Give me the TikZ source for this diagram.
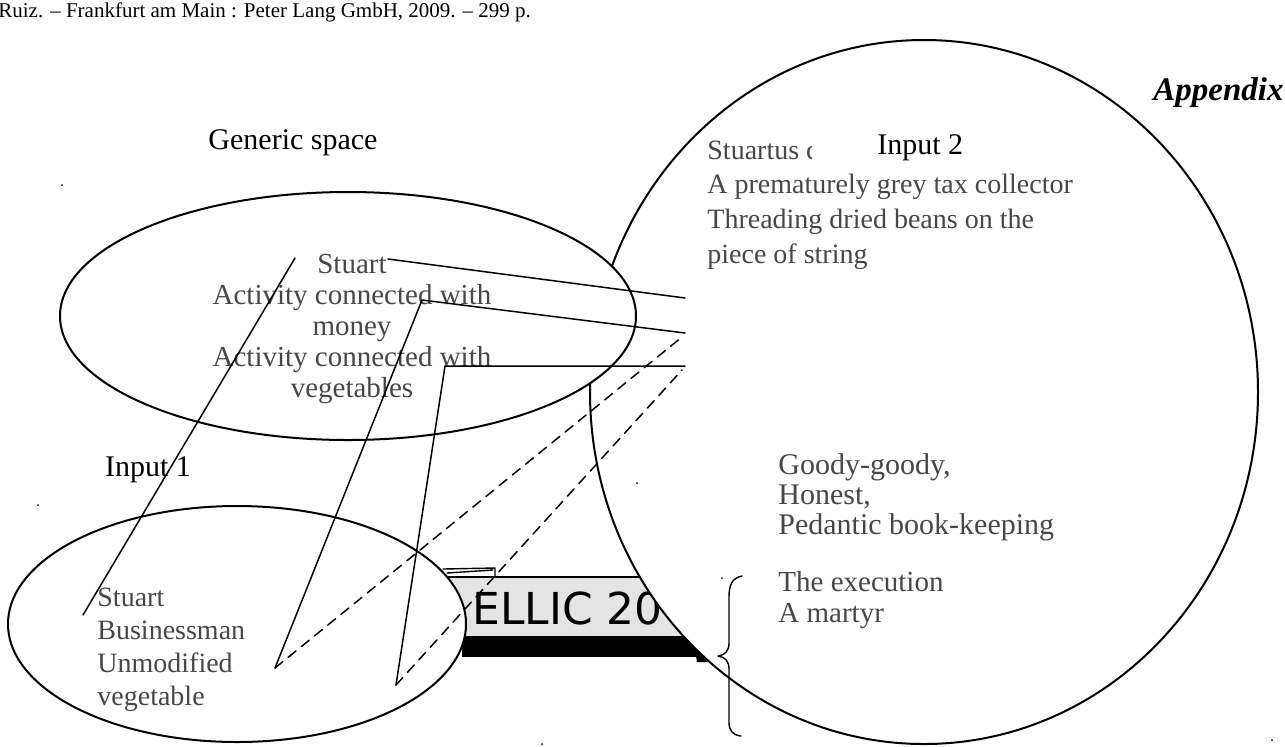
\documentclass[tikz,border=0pt]{standalone}
\usepackage{fontspec}
\setmainfont{Liberation Serif}
\newfontfamily\badgefont{DejaVu Sans}
\usetikzlibrary{calc}
\definecolor{inkgrey}{HTML}{474747}
\definecolor{badgegrey}{HTML}{E4E4E4}

\begin{document}
\begin{tikzpicture}[x=0.5pt,y=-0.5pt,line cap=round,line join=round,
    space@/.style={line width=1pt,fill=white},
    body@/.style={text=inkgrey,inner sep=0pt,align=left,
      font=\fontsize{14}{16.5}\selectfont},
    label@/.style={inner sep=0pt,font=\fontsize{15}{16.5}\selectfont},
    link@/.style={line width=.75pt},
    dash@/.style={line width=.75pt,dash pattern=on 5pt off 3.5pt}]
    \useasboundingbox (0,0) rectangle (1285,746);

    % The conference badge, half hidden behind the spaces.
    \fill[black] (462,637) rectangle (712,657);
    \filldraw[fill=badgegrey,draw=black,line width=.8pt] (440,577) rectangle (715,637);
    \draw[line width=.7pt] (443,569) -- (495,568) -- (495,577);
    \draw[line width=.7pt] (447,573) -- (493,570);
    \node[anchor=west,inner sep=0pt,font=\badgefont\fontsize{22}{22}\selectfont]
      (badge) at (472,608) {ELLIC 20};

    % The three mental spaces.
    \draw[space@] (924,392) ellipse (334 and 352);
    \draw[space@] (348,316) ellipse (288 and 124);
    \draw[space@] (237,624) ellipse (229 and 118);
    \fill[black] (695,650) -- (708,662) -- (697,662) -- cycle;

    % Generic space.
    \node[label@] (genlbl) at (293,143) {Generic space};
    \node[body@,align=center,font=\fontsize{14.5}{15.5}\selectfont] (gentxt) at (352,329)
      {Stuart\\Activity connected with\\money\\Activity connected with\\vegetables};

    % Input 1.
    \node[label@] (inlbl1) at (148,470) {Input 1};
    \node[body@,anchor=west] (intxt1) at (97,650)
      {Stuart\\Businessman\\Unmodified\\vegetable};

    % Input 2, its label masking the first line.
    \node[body@,anchor=west,font=\fontsize{14}{17.3}\selectfont] (intxt2) at (707,205)
      {Stuartus c\\A prematurely grey tax collector\\Threading dried beans on the\\piece of string};
    \fill[white] (812,128) rectangle (1000,168);
    \node[label@,anchor=west] (inlbl2) at (877,148) {Input 2};
    \node[body@,anchor=west,font=\fontsize{15}{15}\selectfont] (traits) at (778,497)
      {Goody-goody,\\Honest,\\Pedantic book-keeping};
    \node[body@,anchor=west,font=\fontsize{14.5}{15.5}\selectfont] (fate) at (778,600)
      {The execution\\A martyr};
    \node[anchor=east,inner sep=0pt,font=\fontsize{16.5}{16.5}\bfseries\itshape\selectfont]
      (appx) at (1284,93) {Appendix};

    % End points of the mappings.
    \coordinate (gStuL) at (295,258);
    \coordinate (gStuR) at (388,259);
    \coordinate (gMon) at (422,300);
    \coordinate (gVeg) at (445,366);
    \coordinate (aStu) at (83,615);
    \coordinate (aBus) at (275,668);
    \coordinate (aVeg) at (396,685);
    \coordinate (bOne) at (685,298);
    \coordinate (bTwo) at (685,333);
    \coordinate (bThree) at (685,366);

    % Mappings: solid across the spaces, dashed for the blend.
    \draw[link@] (aStu) -- (gStuL);
    \draw[link@] (gStuR) -- (bOne);
    \draw[link@] (aBus) -- (gMon) -- (bTwo);
    \draw[link@] (aVeg) -- (gVeg) -- (bThree);
    \draw[dash@] (aBus) -- ($(bTwo)+(-3,4)$);
    \draw[dash@] (aVeg) -- ($(bThree)+(-3,4)$);

    % The brace by the last lines.
    \draw[line width=.7pt] (742,576) .. controls (732,578) and (729,585) .. (729,597)
      -- (729,643) .. controls (729,651) and (725,655) .. (718,656)
      .. controls (725,657) and (729,661) .. (729,669) -- (729,722)
      .. controls (729,730) and (732,735) .. (741,736);

    % Header line and stray marks.
    \node[anchor=west,inner sep=0pt,font=\fontsize{10.5}{10.5}\selectfont]
      (source) at (-2,12) {Ruiz. -- Frankfurt am Main : Peter Lang GmbH, 2009. -- 299 p.};
    \foreach \px/\py in {62/185,38/505,637/483,722/578,542/744,1272/740}
      \fill (\px,\py) circle (1);
  \end{tikzpicture}
\end{document}
